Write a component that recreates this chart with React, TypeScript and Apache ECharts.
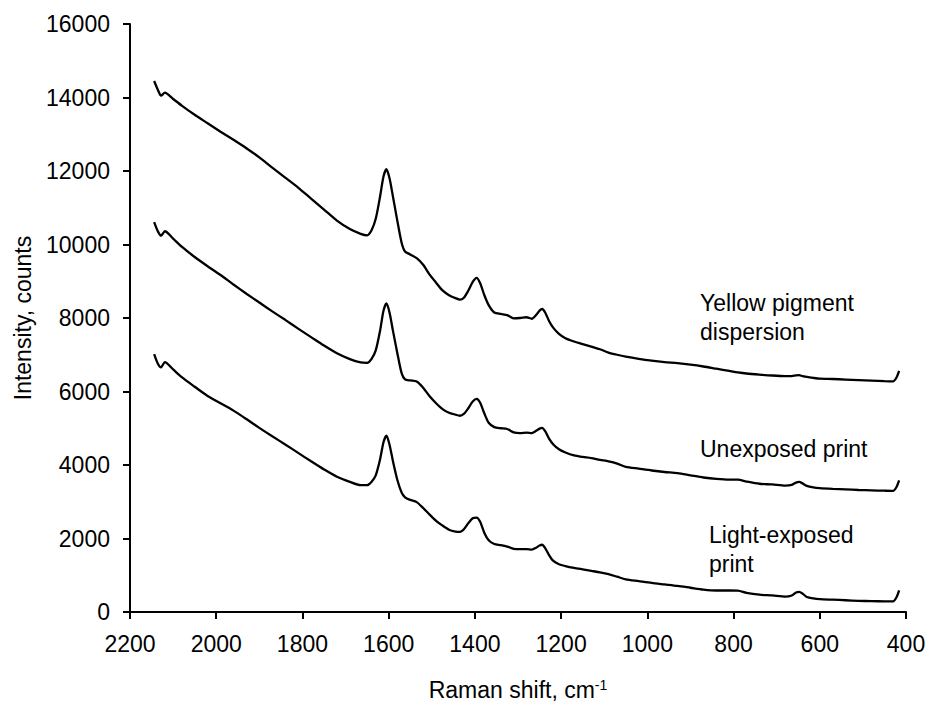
import React, { useEffect, useRef } from "react";
import * as echarts from "echarts";

const ramanShift = [
  2144, 2135, 2128, 2119, 2100, 2080, 2050, 2020, 1990, 1960, 1930, 1900, 1870, 1840, 1810, 1780,
  1750, 1720, 1690, 1665, 1650, 1640, 1630, 1620, 1612, 1605, 1598, 1590, 1580, 1570, 1562, 1550,
  1535, 1520, 1505, 1490, 1475, 1460, 1445, 1435, 1425, 1415, 1405, 1396, 1388, 1378, 1368, 1355,
  1340, 1325, 1310, 1295, 1280, 1268, 1258, 1250, 1244, 1237, 1228, 1218, 1205, 1190, 1170, 1150,
  1130, 1110, 1090, 1070, 1050, 1020, 990, 960, 930, 900, 870, 840, 810, 790, 770, 740, 710, 680,
  665, 655, 648, 640, 630, 615, 600, 570, 540, 510, 480, 450, 430, 422, 416,
];

const yellowPigment = [
  14450, 14200, 14050, 14130, 13960, 13780, 13530, 13300, 13070, 12850, 12620, 12370, 12090, 11820, 11550, 11250,
  10950, 10650, 10420, 10290, 10250, 10380, 10700, 11300, 11850, 12050, 11800, 11300, 10650, 10050, 9810, 9730,
  9630, 9450, 9180, 8960, 8750, 8620, 8540, 8500, 8560, 8750, 8980, 9090, 8950, 8620, 8350, 8150,
  8110, 8080, 7990, 8000, 8020, 7980, 8080, 8200, 8245, 8150, 7920, 7730, 7570, 7450, 7360, 7290,
  7220, 7150, 7060, 7000, 6950, 6890, 6840, 6800, 6770, 6730, 6680, 6620, 6560, 6520, 6490, 6460, 6435, 6420,
  6420, 6440, 6445, 6420, 6395, 6370, 6350, 6340, 6325, 6310, 6295, 6280, 6275, 6380, 6560,
];

const unexposedPrint = [
  10610, 10350, 10240, 10360, 10160, 9940, 9660, 9410, 9170, 8910, 8660, 8420, 8180, 7950, 7710, 7480,
  7250, 7040, 6880, 6790, 6780, 6880, 7120, 7650, 8200, 8400, 8150, 7650, 7050, 6500, 6330, 6300,
  6270, 6100, 5870, 5680, 5520, 5420, 5370, 5340, 5400, 5550, 5730, 5800, 5700, 5400, 5150, 5030,
  5000, 4980, 4890, 4870, 4880, 4870, 4930, 4990, 5010, 4920, 4720, 4560, 4430, 4340, 4260, 4220,
  4190, 4140, 4100, 4040, 3950, 3900, 3850, 3810, 3780, 3720, 3660, 3620, 3600, 3600, 3550, 3490, 3470, 3440,
  3460, 3520, 3540, 3500, 3430, 3390, 3370, 3350, 3335, 3320, 3310, 3300, 3295, 3400, 3580,
];

const lightExposedPrint = [
  7020, 6750, 6660, 6800, 6600, 6390, 6130, 5880, 5680, 5480, 5250, 5010, 4780, 4560, 4330, 4100,
  3880, 3680, 3540, 3450, 3450, 3540, 3720, 4150, 4620, 4800, 4550, 4100, 3600, 3250, 3120, 3050,
  2990, 2830, 2650, 2480, 2350, 2240, 2190, 2180, 2260, 2420, 2550, 2570, 2460, 2150, 1950, 1850,
  1820, 1780, 1720, 1710, 1710, 1700, 1750, 1810, 1830, 1740, 1550, 1390, 1300, 1250, 1200, 1160,
  1120, 1080, 1030, 960, 890, 840, 790, 750, 710, 660, 610, 585, 585, 580, 520, 470, 450, 420,
  450, 530, 545, 500, 410, 370, 350, 335, 320, 305, 295, 290, 288, 400, 590,
];

const seriesNames = ["Yellow pigment dispersion", "Unexposed print", "Light-exposed print"];
const seriesValues = [yellowPigment, unexposedPrint, lightExposedPrint];

const xTitle = "Raman shift, cm";
const xTitleSup = "-1";
const yTitle = "Intensity, counts";

const FONT = "'Liberation Sans', Arial, sans-serif";

export default function App() {
  const ref = useRef<HTMLDivElement>(null);

  useEffect(() => {
    if (!ref.current) return;
    const chart = echarts.init(ref.current, null, { renderer: "svg" });
    const axisCommon = {
      axisLine: { show: true, lineStyle: { color: "#000", width: 2 } },
      axisTick: { show: true, inside: false, length: 7, lineStyle: { color: "#000", width: 2 } },
      splitLine: { show: false },
      axisLabel: {
        color: "#000",
        fontSize: 23,
        fontFamily: FONT,
        margin: 20,
        formatter: (v: number) => String(v),
      },
    };
    chart.setOption({
      animation: false,
      backgroundColor: "#fff",
      textStyle: { fontFamily: FONT, color: "#000" },
      grid: { left: 130, right: 24, top: 24, bottom: 96, containLabel: false },
      xAxis: {
        type: "value",
        min: 400,
        max: 2200,
        interval: 200,
        inverse: true,
        ...axisCommon,
        name: `${xTitle}{sup|${xTitleSup}}`,
        nameLocation: "middle",
        nameGap: 66,
        nameTextStyle: {
          color: "#000",
          fontSize: 23,
          fontFamily: FONT,
          rich: { sup: { fontSize: 14, verticalAlign: "top", fontFamily: FONT, color: "#000" } },
        },
      },
      yAxis: {
        type: "value",
        min: 0,
        max: 16000,
        interval: 2000,
        ...axisCommon,
        name: yTitle,
        nameLocation: "middle",
        nameGap: 96,
        nameTextStyle: { color: "#000", fontSize: 23, fontFamily: FONT },
      },
      series: seriesValues.map((vals, i) => ({
        name: seriesNames[i],
        type: "line",
        data: ramanShift.map((x, j) => [x, vals[j]]),
        showSymbol: false,
        smooth: 0.25,
        lineStyle: { color: "#000", width: 2.3 },
        silent: true,
      })),
      graphic: [
        {
          type: "text",
          left: 700,
          top: 288,
          style: { text: "Yellow pigment\ndispersion", font: `23px ${FONT}`, fill: "#000", lineHeight: 29 },
        },
        {
          type: "text",
          left: 700,
          top: 434,
          style: { text: "Unexposed print", font: `23px ${FONT}`, fill: "#000", lineHeight: 29 },
        },
        {
          type: "text",
          left: 709,
          top: 520,
          style: { text: "Light-exposed\nprint", font: `23px ${FONT}`, fill: "#000", lineHeight: 29 },
        },
      ],
    });
    return () => chart.dispose();
  }, []);

  return <div ref={ref} style={{ width: 930, height: 708, position: "absolute", left: 0, top: 0 }} />;
}
